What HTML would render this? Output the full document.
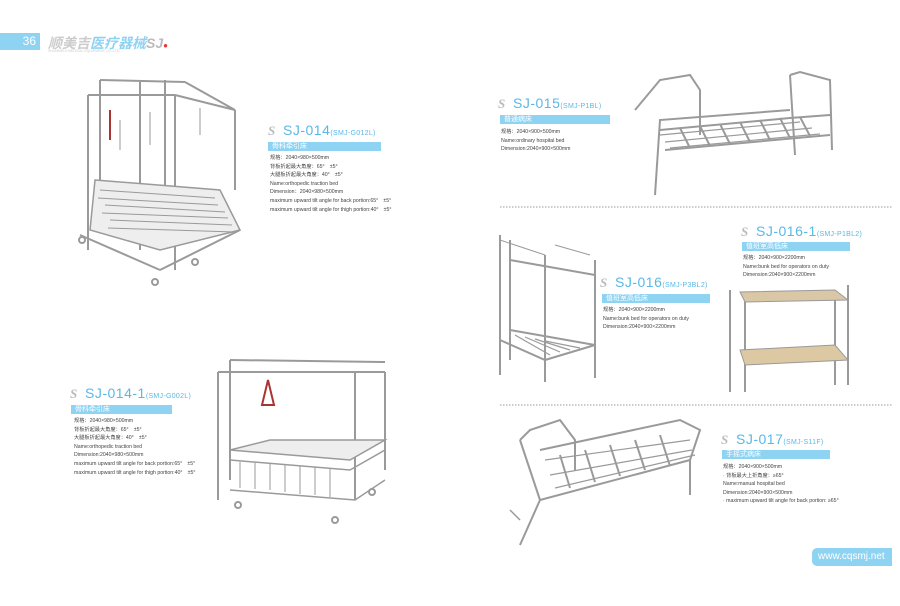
<!DOCTYPE html>
<html><head><meta charset="utf-8"><style>
body{margin:0;width:900px;height:606px;background:#fff;position:relative;overflow:hidden;font-family:"Liberation Sans","Noto Sans CJK SC",sans-serif;}
.a{position:absolute;white-space:nowrap;}
.t{color:#5ab8e6;font-size:14px;letter-spacing:0.5px}
.t small{font-size:7px;letter-spacing:0.3px}
.bar{position:absolute;height:9px;background:#8fd3f3;color:#fff;font-size:7px;line-height:9px;padding-left:4px;box-sizing:border-box}
.l{position:absolute;font-size:5.2px;color:#444;line-height:8.6px;white-space:nowrap}
.s{display:inline-block;width:12px;height:12px;color:#bbb;font-style:italic;font-weight:bold;font-size:13px;line-height:12px;margin-right:3px;font-family:"Liberation Serif",serif}
svg{position:absolute;left:0;top:0}
</style></head><body>
<div class="a" style="left:0;top:33px;width:40px;height:17px;background:#8fd3f3;color:#fff;font-size:12px;line-height:17px;text-align:right;padding-right:4px;box-sizing:border-box">36</div>
<div class="a" style="left:48px;top:33px;font-size:14px;font-style:italic;font-weight:bold;color:#ccc">顺美吉<span style="color:#8fd3f3">医疗器械</span><span style="color:#bbb">SJ</span><span style="color:#e33;font-size:8px">●</span></div>
<div class="a" style="left:48px;top:49px;font-size:3.5px;color:#ccc">SHUNMEIJI MEDICAL EQUIPMENT CO.,LTD</div>

<svg width="900" height="606" stroke="#9a9a9a" fill="none" stroke-width="2">
<line x1="500" y1="207" x2="892" y2="207" stroke="#999" stroke-width="1" stroke-dasharray="1.5,1.5"/>
<line x1="500" y1="405" x2="892" y2="405" stroke="#999" stroke-width="1" stroke-dasharray="1.5,1.5"/>
<!-- SJ-014 -->
<g>
<line x1="88" y1="95" x2="88" y2="250"/><line x1="100" y1="80" x2="100" y2="230"/><line x1="175" y1="95" x2="175" y2="270"/><line x1="235" y1="110" x2="235" y2="190"/>
<line x1="88" y1="95" x2="175" y2="95"/><line x1="100" y1="80" x2="185" y2="82"/><line x1="175" y1="95" x2="235" y2="110"/><line x1="185" y1="82" x2="235" y2="110"/><line x1="140" y1="82" x2="140" y2="250"/><line x1="165" y1="80" x2="165" y2="240"/>
<path d="M95 180 L220 190 L240 230 L160 250 L90 230 Z" stroke-width="1.5" fill="#eee"/>
<path d="M100 190 L215 198 M105 205 L225 212 M110 220 L232 225 M98 198 L218 205 M102 213 L228 218 M108 228 L235 232" stroke-width="1"/>
<line x1="80" y1="235" x2="160" y2="270"/><line x1="160" y1="270" x2="240" y2="230"/>
<line x1="110" y1="110" x2="110" y2="140" stroke="#a33"/>
<circle cx="82" cy="240" r="3"/><circle cx="155" cy="282" r="3"/><circle cx="195" cy="262" r="3"/>
<path d="M120 120 V150 M150 112 V145 M200 108 V135" stroke-width="1"/>
</g>
<!-- SJ-014-1 -->
<g>
<line x1="218" y1="372" x2="218" y2="500"/><line x1="230" y1="360" x2="230" y2="480"/><line x1="355" y1="372" x2="355" y2="500"/><line x1="385" y1="372" x2="385" y2="470"/>
<line x1="218" y1="372" x2="385" y2="372"/><line x1="230" y1="360" x2="385" y2="362"/>
<path d="M230 450 L350 460 L385 440 L270 440 Z" stroke-width="1.5" fill="#eee"/>
<path d="M230 460 L350 470 L385 450 M230 490 L355 500 L385 480" stroke-width="1.5"/>
<path d="M240 462 V488 M255 463 V489 M270 464 V490 M285 465 V492 M300 466 V494 M315 467 V495 M330 468 V497" stroke-width="1"/>
<path d="M262 405 L268 380 L274 405 Z" stroke="#a33"/>
<circle cx="238" cy="505" r="3"/><circle cx="335" cy="520" r="3"/><circle cx="372" cy="492" r="3"/>
</g>
<!-- SJ-015 -->
<g>
<path d="M635 110 L660 80 L690 75 L700 90 L700 135"/><path d="M655 195 L660 120 L790 110"/><path d="M790 75 L800 72 L830 80 L832 150"/>
<path d="M660 130 L790 118 L830 115"/><path d="M665 150 L830 135" /><line x1="790" y1="75" x2="795" y2="155"/>
<path d="M660 135 L800 122 M665 142 L812 128 M670 148 L820 134" stroke-width="1.2"/>
<path d="M680 128 L690 148 M700 126 L710 146 M720 124 L730 144 M740 122 L750 142 M760 120 L770 140 M780 118 L790 138 M800 117 L810 136" stroke-width="2"/>
</g>
<!-- SJ-016 -->
<g>
<line x1="500" y1="235" x2="500" y2="375"/><line x1="510" y1="240" x2="510" y2="360"/><line x1="545" y1="255" x2="545" y2="382"/><line x1="595" y1="260" x2="595" y2="378"/>
<path d="M510 260 L595 275 M510 330 L595 345 M500 340 L545 360 L595 345"/>
<path d="M500 240 L545 255 M555 245 L590 255" stroke-width="1"/>
<path d="M515 335 L550 355 M525 337 L560 352 M535 339 L570 350 M545 341 L580 348" stroke-width="1.2"/>
</g>
<!-- SJ-016-1 -->
<g>
<line x1="730" y1="290" x2="730" y2="392"/><line x1="745" y1="300" x2="745" y2="392"/><line x1="848" y1="285" x2="848" y2="385"/><line x1="835" y1="295" x2="835" y2="385"/>
<path d="M745 302 L848 300 L835 290 L740 292 Z" fill="#d9c7a5" stroke-width="1"/>
<path d="M745 365 L848 360 L835 345 L740 350 Z" fill="#dcc9a3" stroke-width="1"/>
</g>
<!-- SJ-017 -->
<g>
<path d="M520 440 L530 430 L560 420 L575 440 L575 470"/><path d="M520 440 L540 500 L520 545"/><path d="M540 500 L690 460 L700 430 L680 420 L540 450"/>
<path d="M545 460 L690 440 M550 475 L692 450 M555 488 L695 455" stroke-width="1.2"/><line x1="690" y1="460" x2="690" y2="495"/>
<path d="M560 455 L570 488 M585 450 L595 482 M610 445 L620 476 M635 440 L645 470 M660 435 L670 466" stroke-width="2"/>
<path d="M510 510 L520 520" stroke-width="1.5"/>
</g>
</svg>

<div class="a t" style="left:268px;top:122px"><span class="s">S</span>SJ-014<small>(SMJ-G012L)</small></div>
<div class="bar" style="left:268px;top:142px;width:113px">骨科牵引床</div>
<div class="l" style="left:270px;top:154px">规格：2040×980×500mm<br>背板折起最大角度：65°　±5°<br>大腿板折起最大角度：40°　±5°<br>Name:orthopedic traction bed<br>Dimension：2040×980×500mm<br>maximum upward tilt angle for back portion:65°　±5°<br>maximum upward tilt angle for thigh portion:40°　±5°</div>

<div class="a t" style="left:70px;top:385px"><span class="s">S</span>SJ-014-1<small>(SMJ-G002L)</small></div>
<div class="bar" style="left:71px;top:405px;width:101px">骨科牵引床</div>
<div class="l" style="left:74px;top:417px">规格：2040×980×500mm<br>背板折起最大角度：65°　±5°<br>大腿板折起最大角度：40°　±5°<br>Name:orthopedic traction bed<br>Dimension:2040×980×500mm<br>maximum upward tilt angle for back portion:65°　±5°<br>maximum upward tilt angle for thigh portion:40°　±5°</div>

<div class="a t" style="left:498px;top:95px"><span class="s">S</span>SJ-015<small>(SMJ-P1BL)</small></div>
<div class="bar" style="left:500px;top:115px;width:110px">普通病床</div>
<div class="l" style="left:501px;top:128px">规格：2040×900×500mm<br>Name:ordinary hospital bed<br>Dimension:2040×900×500mm</div>

<div class="a t" style="left:741px;top:223px"><span class="s">S</span>SJ-016-1<small>(SMJ-P1BL2)</small></div>
<div class="bar" style="left:742px;top:242px;width:108px">值班室高低床</div>
<div class="l" style="left:743px;top:254px">规格：2040×900×2200mm<br>Name:bunk bed for operators on duty<br>Dimension:2040×900×2200mm</div>

<div class="a t" style="left:600px;top:274px"><span class="s">S</span>SJ-016<small>(SMJ-P3BL2)</small></div>
<div class="bar" style="left:602px;top:294px;width:108px">值班室高低床</div>
<div class="l" style="left:603px;top:306px">规格：2040×900×2200mm<br>Name:bunk bed for operators on duty<br>Dimension:2040×900×2200mm</div>

<div class="a t" style="left:721px;top:431px"><span class="s">S</span>SJ-017<small>(SMJ-S11F)</small></div>
<div class="bar" style="left:722px;top:450px;width:108px">手摇式病床</div>
<div class="l" style="left:723px;top:463px">规格：2040×900×500mm<br>· 背板最大上折角度：≥65°<br>Name:manual hospital bed<br>Dimension:2040×900×500mm<br>· maximum upward tilt angle for back portion: ≥65°</div>

<div class="a" style="left:812px;top:548px;width:80px;height:18px;background:#8fd3f3;border-radius:5px 0 0 5px;color:#fff;font-size:10px;line-height:18px;padding-left:6px;box-sizing:border-box">www.cqsmj.net</div>
</body></html>
